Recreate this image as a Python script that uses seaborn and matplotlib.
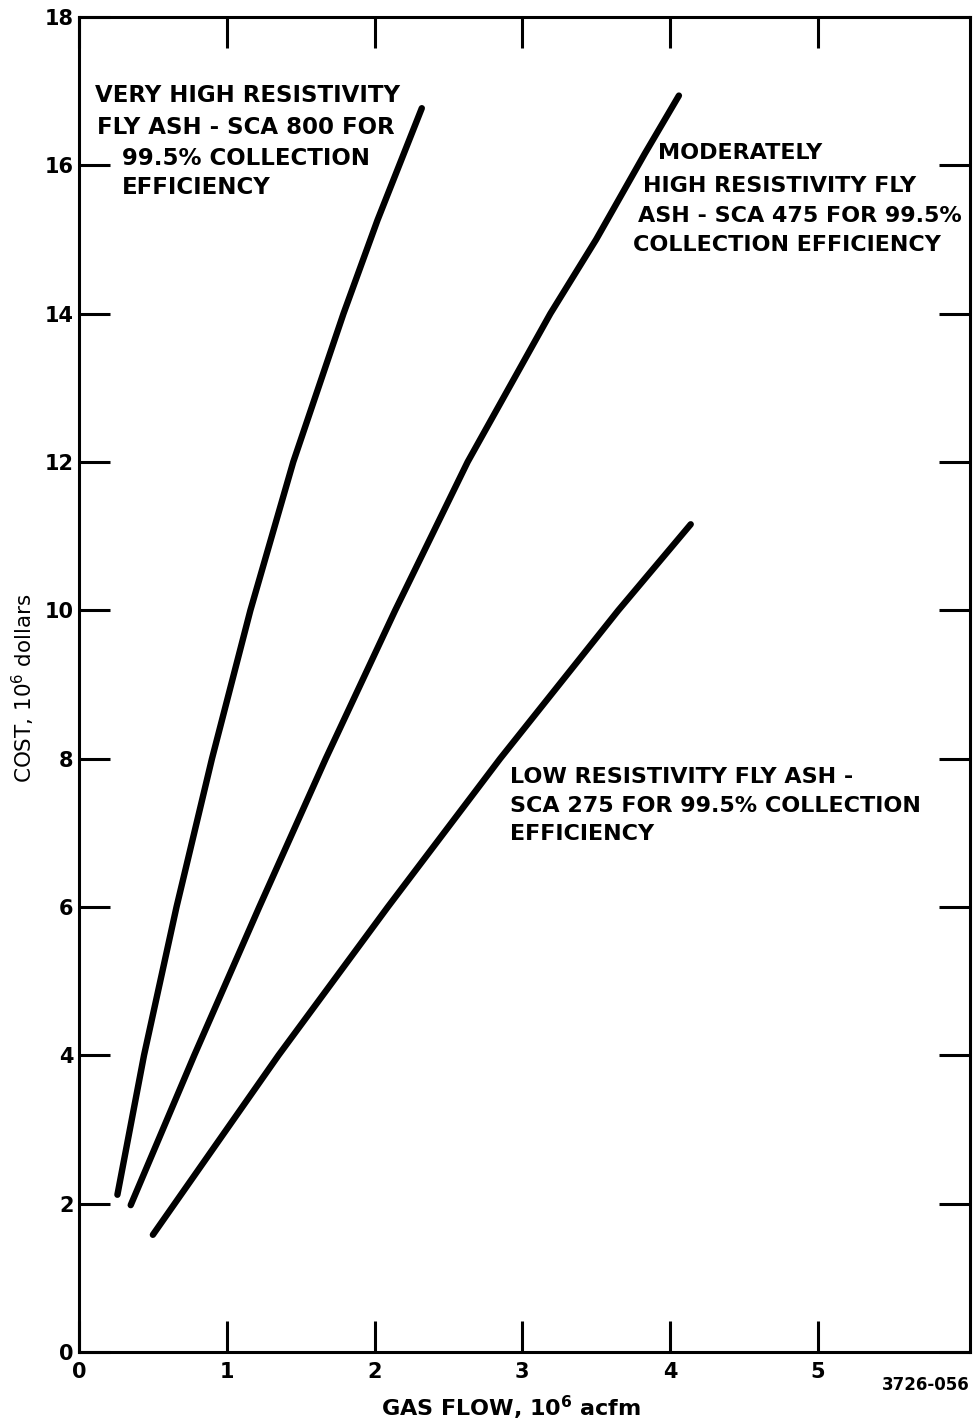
import numpy as np
import pandas as pd
import matplotlib
matplotlib.use("Agg")
import matplotlib.pyplot as plt
import seaborn as sns

# ---- data ----
very_high_x = [0.26, 0.44, 0.66, 0.90, 1.16, 1.45, 1.79, 2.02, 2.32]
very_high_y = [2.12, 4.0, 6.0, 8.0, 10.0, 12.0, 14.0, 15.26, 16.77]

moderate_x = [0.35, 0.78, 1.22, 1.67, 2.14, 2.63, 3.19, 3.50, 3.83, 4.06]
moderate_y = [1.98, 4.0, 6.0, 8.0, 10.0, 12.0, 14.0, 15.0, 16.16, 16.94]

low_x = [0.50, 1.35, 2.09, 2.85, 3.65, 4.14]
low_y = [1.58, 4.0, 6.0, 8.0, 10.0, 11.16]

x_ticks = [0, 1, 2, 3, 4, 5]
y_ticks = [0, 2, 4, 6, 8, 10, 12, 14, 16, 18]

label_very_high = ["VERY HIGH RESISTIVITY", "FLY ASH - SCA 800 FOR",
                   "99.5% COLLECTION", "EFFICIENCY"]
label_moderate = ["MODERATELY", "HIGH RESISTIVITY FLY",
                  "ASH - SCA 475 FOR 99.5%", "COLLECTION EFFICIENCY"]
label_low = ["LOW RESISTIVITY FLY ASH -", "SCA 275 FOR 99.5% COLLECTION",
             "EFFICIENCY"]

# ---- long table for seaborn ----
df = pd.concat([
    pd.DataFrame({"flow": very_high_x, "cost": very_high_y, "series": "very high"}),
    pd.DataFrame({"flow": moderate_x, "cost": moderate_y, "series": "moderate"}),
    pd.DataFrame({"flow": low_x, "cost": low_y, "series": "low"}),
], ignore_index=True)

sns.set_style("white")
plt.rcParams["font.family"] = ["DejaVu Sans"]
plt.rcParams["mathtext.default"] = "regular"
plt.rcParams["text.color"] = "black"
plt.rcParams["axes.labelcolor"] = "black"

fig = plt.figure(figsize=(9.74, 14.26), dpi=100)
ax = fig.add_axes([0.0811, 0.0519, 0.9148, 0.9362])

sns.lineplot(data=df, x="flow", y="cost", hue="series", sort=False,
             palette=["black", "black", "black"], linewidth=4.6,
             legend=False, ax=ax, solid_capstyle="round",
             solid_joinstyle="round")

ax.set_xlim(0, 6.03)
ax.set_ylim(0, 18)
ax.set_xticks(x_ticks)
ax.set_yticks(y_ticks)
ax.set_xticklabels([str(v) for v in x_ticks], fontsize=15, fontweight="bold")
ax.set_yticklabels([str(v) for v in y_ticks], fontsize=15, fontweight="bold")
ax.tick_params(axis="both", direction="in", length=22, width=2.2,
               top=True, right=True, left=True, bottom=True,
               colors="black")
ax.tick_params(axis="x", pad=7)
ax.tick_params(axis="y", pad=4)

for s in ax.spines.values():
    s.set_visible(True)
    s.set_linewidth(2.2)
    s.set_color("black")

ax.set_xlabel("GAS FLOW, 10$^6$ acfm", fontsize=16, fontweight="bold")
ax.xaxis.set_label_coords(0.485, -0.031)
ax.xaxis.label.set_va("top")
ax.set_ylabel("COST, 10$^6$ dollars", fontsize=15.5)
ax.yaxis.set_label_coords(-0.047, 0.497)

def place(lines, lefts, ys, size):
    for t, x, y in zip(lines, lefts, ys):
        ax.text(x, y, t, fontsize=size, fontweight="bold", ha="left",
                va="center", color="black")

place(label_very_high, [0.108, 0.122, 0.291, 0.291],
      [16.94, 16.51, 16.09, 15.70], 16.5)
place(label_moderate, [3.92, 3.82, 3.785, 3.75],
      [16.16, 15.72, 15.32, 14.92], 16)
place(label_low, [2.92, 2.92, 2.92], [7.75, 7.36, 6.98], 16)

fig.text(970 / 974, 1 - 1385 / 1426, "3726-056", fontsize=12,
         fontweight="bold", ha="right", va="center")

fig.savefig("out.png", dpi=100)
